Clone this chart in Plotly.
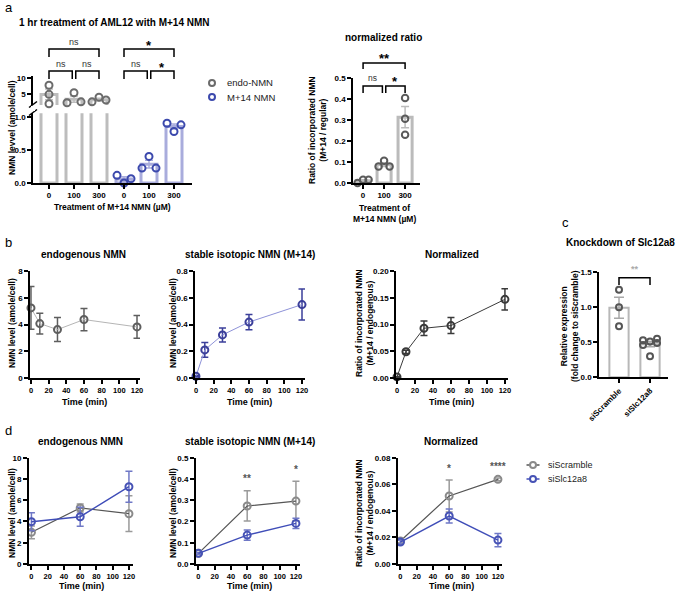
import numpy as np
import plotly.graph_objects as go

# ---------------- data ----------------
dose_labels = ['0', '100', '300']
a_endo = [[7.8, 4.9, 1.9], [2.2, 5.4, 2.5], [2.5, 4.0, 3.1]]
a_m14 = [[0.117, 0.0, 0.066], [0.227, 0.404, 0.227], [0.909, 0.783, 0.885]]
a_ratio = [[0.0, 0.016, 0.016], [0.079, 0.106, 0.079], [0.405, 0.306, 0.23]]
a_series = ['endo-NMN', 'M+14 NMN']
a_sig_left = [(0, 1, 'ns', 1), (1, 2, 'ns', 1), (0, 2, 'ns', 2),
              (3, 4, 'ns', 1), (4, 5, '*', 1), (3, 5, '*', 2)]
a_sig_right = [(0, 1, 'ns', 1), (1, 2, '*', 1), (0, 2, '**', 2)]

b_time = [0, 10, 30, 60, 120]
b_endo_mean = [5.24, 4.07, 3.62, 4.37, 3.82]
b_endo_sem = [1.6, 0.78, 0.9, 0.83, 0.85]
b_m14_mean = [0.013, 0.21, 0.322, 0.418, 0.549]
b_m14_sem = [0.005, 0.055, 0.052, 0.057, 0.116]
b_norm_mean = [0.002, 0.049, 0.093, 0.098, 0.147]
b_norm_sem = [0.001, 0.003, 0.0135, 0.015, 0.02]

c_groups = ['siScramble', 'siSlc12a8']
c_scramble = [1.25, 1.0, 0.73]
c_kd = [0.53, 0.51, 0.55, 0.46, 0.49, 0.30]

d_time = [0, 60, 120]
d_series = ['siScramble', 'siSlc12a8']
d_endo_scr = [2.98, 5.27, 4.73]
d_endo_scr_sem = [0.6, 0.37, 1.68]
d_endo_kd = [3.98, 4.45, 7.27]
d_endo_kd_sem = [0.85, 0.9, 1.45]
d_m14_scr = [0.05, 0.273, 0.296]
d_m14_scr_sem = [0.004, 0.071, 0.093]
d_m14_kd = [0.05, 0.136, 0.191]
d_m14_kd_sem = [0.004, 0.024, 0.024]
d_norm_scr = [0.0173, 0.0512, 0.0637]
d_norm_scr_sem = [0.0015, 0.012, 0.001]
d_norm_kd = [0.0165, 0.0361, 0.018]
d_norm_kd_sem = [0.0015, 0.0052, 0.005]
d_m14_stars = {60: '**', 120: '*'}
d_norm_stars = {60: '*', 120: '****'}

# ---------------- helpers ----------------
W, H = 691, 593
FONT = 'Liberation Sans, Arial, Helvetica, sans-serif'


def PX(x):
    return x / W


def PY(y):
    return 1 - y / H


def mean_sem(v):
    v = np.asarray(v, float)
    return float(v.mean()), float(v.std(ddof=1) / np.sqrt(len(v)))


def swarm(vals, ppu, ppc, d):
    vals = list(vals)
    order = sorted(range(len(vals)), key=lambda i: vals[i])
    clusters, cur = [], [order[0]]
    for a, b in zip(order, order[1:]):
        if (vals[b] - vals[a]) * ppu < d:
            cur.append(b)
        else:
            clusters.append(cur)
            cur = [b]
    clusters.append(cur)
    offs = [0.0] * len(vals)
    for cl in clusters:
        cl = sorted(cl)
        for r in range(0, len(cl), 3):
            row = cl[r:r + 3]
            slots = [0] if len(row) == 1 else ([-1, 1] if len(row) == 2 else [-1, 0, 1])
            for i, s in zip(row, slots):
                offs[i] = s * d / ppc
    return offs


def axis(**kw):
    base = dict(showline=True, linecolor='black', linewidth=1.5, ticks='outside',
                ticklen=4, tickwidth=1.5, tickcolor='black', showgrid=False,
                zeroline=False, fixedrange=True, automargin=False, tickangle=0,
                tickfont=dict(family=FONT, size=8, color='black', weight='bold'))
    base.update(kw)
    return base


fig = go.Figure()
annotations = []
shapes = []


def ann(text, x, y, size=8.5, bold=True, angle=0, color='black', xanchor='center',
        yanchor='middle', xref='paper', yref='paper', yshift=0):
    annotations.append(dict(text=text, x=x, y=y, xref=xref, yref=yref, showarrow=False,
                            textangle=angle, xanchor=xanchor, yanchor=yanchor, yshift=yshift,
                            font=dict(family=FONT, size=size, color=color,
                                      weight='bold' if bold else 'normal')))


def legend_item(cx, cy, label, color, line_color=None, size=9.5):
    if line_color:
        shapes.append(dict(type='line', xref='paper', yref='paper', x0=PX(cx - 6.5), x1=PX(cx + 6.5),
                           y0=PY(cy), y1=PY(cy), line=dict(color=line_color, width=1.5)))
    shapes.append(dict(type='circle', xref='paper', yref='paper', xsizemode='pixel', ysizemode='pixel',
                       xanchor=PX(cx), yanchor=PY(cy), x0=-3, x1=3, y0=-3, y1=3,
                       line=dict(color=color, width=2), fillcolor='white'))
    ann(label, PX(cx + 13), PY(cy), size=size, bold=False, color='#222222', xanchor='left')


GREY_BAR = '#bdbdbd'
GREY_PT = '#6b6b6b'
BLUE_BAR = '#a9acdc'
BLUE_PT = '#3c49ad'

# ---------------- panel a (left, broken axis) ----------------
endo_ms = [mean_sem(v) for v in a_endo]
m14_ms = [mean_sem(v) for v in a_m14]
endo_x = [0, 1, 2]
m14_x = [3, 4, 5]
for yax in ['y', 'y2']:
    fig.add_trace(go.Bar(x=endo_x, y=[m for m, s in endo_ms], width=0.64, xaxis='x', yaxis=yax,
                         marker=dict(color='white', line=dict(color=GREY_BAR, width=3)),
                         error_y=dict(type='data', array=[s for m, s in endo_ms], color=GREY_BAR,
                                      thickness=1.5, width=4), showlegend=False, hoverinfo='skip'))
    fig.add_trace(go.Bar(x=m14_x, y=[m for m, s in m14_ms], width=0.64, xaxis='x', yaxis=yax,
                         marker=dict(color='white', line=dict(color=BLUE_BAR, width=3)),
                         error_y=dict(type='data', array=[s for m, s in m14_ms], color=BLUE_BAR,
                                      thickness=1.5, width=4), showlegend=False, hoverinfo='skip'))

px_ex, px_ey = [], []
for gx, vals in zip(endo_x, a_endo):
    offs = swarm(vals, 3.13, 25, 7)
    px_ex += [gx + o for o in offs]
    px_ey += vals
fig.add_trace(go.Scatter(x=px_ex, y=px_ey, xaxis='x', yaxis='y2', mode='markers', name=a_series[0],
                         marker=dict(symbol='circle-open', size=7, color=GREY_PT, line=dict(width=2)),
                         cliponaxis=False, showlegend=False))
px_mx, px_my = [], []
for gx, vals in zip(m14_x, a_m14):
    offs = swarm(vals, 66, 25, 7)
    px_mx += [gx + o for o in offs]
    px_my += vals
fig.add_trace(go.Scatter(x=px_mx, y=px_my, xaxis='x', yaxis='y', mode='markers', name=a_series[1],
                         marker=dict(symbol='circle-open', size=7, color=BLUE_PT, line=dict(width=2)),
                         cliponaxis=False, showlegend=False))
legend_item(212, 83, a_series[0], GREY_PT)
legend_item(212, 97, a_series[1], BLUE_PT)

# ---------------- panel a (right, ratio) ----------------
ratio_ms = [mean_sem(v) for v in a_ratio]
fig.add_trace(go.Bar(x=[0, 1, 2], y=[m for m, s in ratio_ms], width=0.67, xaxis='x2', yaxis='y3',
                     marker=dict(color='white', line=dict(color='#bbbbbb', width=3)),
                     error_y=dict(type='data', array=[s for m, s in ratio_ms], color='#bbbbbb',
                                  thickness=1.5, width=4), showlegend=False, hoverinfo='skip'))
rx, ry = [], []
for gx, vals in enumerate(a_ratio):
    offs = swarm(vals, 210, 21, 5.5)
    rx += [gx + o for o in offs]
    ry += vals
fig.add_trace(go.Scatter(x=rx, y=ry, xaxis='x2', yaxis='y3', mode='markers', showlegend=False,
                         marker=dict(symbol='circle-open', size=6.5, color='#5a5a5a', line=dict(width=2)),
                         cliponaxis=False))


# ---------------- panel b ----------------
def line_trace(x, y, e, xa, ya, lc, mc, ec, lw=1, name=None, msize=7):
    return go.Scatter(x=x, y=y, xaxis=xa, yaxis=ya, mode='lines+markers', name=name,
                      line=dict(color=lc, width=lw),
                      marker=dict(symbol='circle-open', size=msize, color=mc, line=dict(width=2)),
                      error_y=dict(type='data', array=e, color=ec, thickness=1.5, width=3.5),
                      cliponaxis=False, showlegend=False)


fig.add_trace(line_trace(b_time, b_endo_mean, b_endo_sem, 'x3', 'y4', '#b5b5b5', '#5e5e5e', '#5e5e5e'))
fig.add_trace(line_trace(b_time, b_m14_mean, b_m14_sem, 'x4', 'y5', '#8e92d8', '#3b3f9a', '#3b3f9a'))
fig.add_trace(line_trace(b_time, b_norm_mean, b_norm_sem, 'x5', 'y6', '#3a3a3a', '#3a3a3a', '#3a3a3a'))

# ---------------- panel c ----------------
c_vals = [c_scramble, c_kd]
c_ms = [mean_sem(v) for v in c_vals]
fig.add_trace(go.Bar(x=[0, 1], y=[m for m, s in c_ms], width=0.62, xaxis='x6', yaxis='y7',
                     marker=dict(color='white', line=dict(color='#b8b8b8', width=2)),
                     error_y=dict(type='data', array=[s for m, s in c_ms], color='#a8a8a8',
                                  thickness=1.5, width=5), showlegend=False, hoverinfo='skip'))
cx, cy = [], []
for gx, vals in enumerate(c_vals):
    offs = swarm(vals, 70, 31, 7)
    cx += [gx + o for o in offs]
    cy += vals
fig.add_trace(go.Scatter(x=cx, y=cy, xaxis='x6', yaxis='y7', mode='markers', showlegend=False,
                         marker=dict(symbol='circle-open', size=6, color='#555555', line=dict(width=2)),
                         cliponaxis=False))

# ---------------- panel d ----------------
SCR_L, SCR_M, SCR_E = '#555555', '#8a8a8a', '#9a9a9a'
KD_L, KD_M, KD_E = '#3f4db8', '#4652b5', '#6f78c6'
fig.add_trace(line_trace(d_time, d_endo_scr, d_endo_scr_sem, 'x7', 'y8', SCR_L, SCR_M, SCR_E, lw=1.2,
                         name=d_series[0]))
fig.add_trace(line_trace(d_time, d_endo_kd, d_endo_kd_sem, 'x7', 'y8', KD_L, KD_M, KD_E, lw=1.4,
                         name=d_series[1]))
fig.add_trace(line_trace(d_time, d_m14_scr, d_m14_scr_sem, 'x8', 'y9', SCR_L, SCR_M, SCR_E, lw=1.2))
fig.add_trace(line_trace(d_time, d_m14_kd, d_m14_kd_sem, 'x8', 'y9', KD_L, KD_M, KD_E, lw=1.4))
fig.add_trace(line_trace(d_time, d_norm_scr, d_norm_scr_sem, 'x9', 'y10', SCR_L, SCR_M, SCR_E, lw=1.2))
fig.add_trace(line_trace(d_time, d_norm_kd, d_norm_kd_sem, 'x9', 'y10', KD_L, KD_M, KD_E, lw=1.4))
legend_item(533, 465, d_series[0], SCR_M, SCR_L, size=9)
legend_item(533, 479, d_series[1], KD_M, KD_L, size=9)

for stars, scr, scr_e, kd, kd_e, xa, ya in [
        (d_m14_stars, d_m14_scr, d_m14_scr_sem, d_m14_kd, d_m14_kd_sem, 'x8', 'y9'),
        (d_norm_stars, d_norm_scr, d_norm_scr_sem, d_norm_kd, d_norm_kd_sem, 'x9', 'y10')]:
    for t, s in stars.items():
        i = d_time.index(t)
        top = max(scr[i] + scr_e[i], kd[i] + kd_e[i])
        ann(s, t, top, size=10, bold=True, color='#555555', xref=xa, yref=ya, yshift=12)


# ---------------- significance brackets ----------------
def bracket(xref, x0, x1, top_px, leg_px, text, text_px, lw=1.5, color='black', tsize=None, tcolor=None):
    shapes.append(dict(type='path', xref=xref, yref='paper', line=dict(color=color, width=lw),
                       path=f'M {x0},{PY(leg_px)} L {x0},{PY(top_px)} L {x1},{PY(top_px)} L {x1},{PY(leg_px)}'))
    if text == 'ns':
        ann(text, (x0 + x1) / 2, PY(text_px), size=tsize or 9, bold=False, color=tcolor or '#333333',
            xref=xref)
    else:
        ann(text, (x0 + x1) / 2, PY(text_px + 3), size=tsize or 13, bold=True, color=tcolor or 'black',
            xref=xref)


for i, j, txt, lvl in a_sig_left:
    x0 = i + (0.07 if (lvl == 1 and i % 3 == 1) else 0)
    x1 = j - (0.07 if (lvl == 1 and j % 3 == 1) else 0)
    if lvl == 1:
        bracket('x', x0, x1, 71, 79, txt, 64)
    else:
        bracket('x', x0, x1, 49, 57, txt, 42)
for i, j, txt, lvl in a_sig_right:
    x0 = i + (0.08 if (lvl == 1 and i == 1) else 0)
    x1 = j - (0.08 if (lvl == 1 and j == 1) else 0)
    if lvl == 1:
        bracket('x2', x0, x1, 86, 93, txt, 78, tsize=8.5 if txt == 'ns' else None)
    else:
        bracket('x2', x0, x1, 63, 69, txt, 55)
bracket('x6', 0, 1, 277.7, 285, '**', 266, tsize=9, tcolor='#aaaaaa')

# axis break marks for panel a
for yb in [104.5, 112.5]:
    shapes.append(dict(type='line', xref='paper', yref='paper', x0=PX(29), x1=PX(37),
                       y0=PY(yb + 3), y1=PY(yb - 3), line=dict(color='black', width=1.5)))
shapes.append(dict(type='rect', xref='paper', yref='paper', x0=PX(31), x1=PX(35),
                   y0=PY(111), y1=PY(106), line=dict(width=0), fillcolor='white'))

# ---------------- text ----------------
ann('a', PX(3), PY(8), size=13, bold=False, xanchor='left')
ann('b', PX(3), PY(243), size=13, bold=False, xanchor='left')
ann('c', PX(560), PY(222), size=13, bold=False, xanchor='left')
ann('d', PX(3), PY(430), size=13, bold=False, xanchor='left')

ann('1 hr treatment of AML12 with M+14 NMN', PX(17), PY(23), size=10, xanchor='left')
ann('normalized ratio', PX(383), PY(38), size=10)
ann('NMN levvel (amole/cell)', PX(12), PY(128), size=8.5, angle=-90)
ann('Treatment of M+14 NMN (µM)', PX(112), PY(207), size=8.5)
ann('Ratio of incorporated NMN<br>(M+14 / regular)', PX(317), PY(130), size=8.5, angle=-90)
ann('Treatment of<br>M+14 NMN (µM)', PX(384), PY(213), size=8.5)

for cx_, title in [(83, 'endogenous NMN'), (250, 'stable isotopic NMN (M+14)'), (452, 'Normalized')]:
    ann(title, PX(cx_), PY(254), size=10)
for cx_, title in [(80, 'endogenous NMN'), (250, 'stable isotopic NMN (M+14)'), (451, 'Normalized')]:
    ann(title, PX(cx_), PY(441.5), size=10)
for cx_ in [84, 249, 452]:
    ann('Time (min)', PX(cx_), PY(402), size=9)
for cx_ in [81, 249, 451]:
    ann('Time (min)', PX(cx_), PY(585.5), size=9)
for py_ in [323, 513]:
    ann('NMN level (amole/cell)', PX(12), PY(py_), size=8.5, angle=-90)
    ann('NMN level (amole/cell)', PX(173), PY(py_), size=8.5, angle=-90)
    ann('Ratio of incorporated NMN<br>(M+14 / endogenous)', PX(364), PY(py_), size=8.5, angle=-90)

ann('Knockdown of Slc12a8', PX(620), PY(243), size=10)
ann('Relative expression<br>(fold change to siScramble)', PX(569), PY(326), size=8.5, angle=-90)

TICK_D = dict(family=FONT, size=7.5, color='black', weight='bold')

# ---------------- layout ----------------
layout = dict(
    width=W, height=H, margin=dict(l=0, r=0, t=0, b=0, autoexpand=False),
    paper_bgcolor='white', plot_bgcolor='white', barmode='overlay',
    font=dict(family=FONT, color='black'),
    annotations=annotations, shapes=shapes, showlegend=False,
    xaxis=axis(domain=[PX(33), PX(192)], range=[-0.64, 5.72], anchor='y',
               tickvals=list(range(6)), ticktext=dose_labels * 2),
    yaxis=axis(domain=[PY(183), PY(113.3)], range=[0, 1.06], anchor='x',
               tickvals=[0, 0.5, 1.0], tickformat='.1f'),
    yaxis2=axis(domain=[PY(105), PY(76.4)], range=[1.5, 10.6], anchor='x', tickvals=[5, 10]),
    xaxis2=axis(domain=[PX(353), PX(420)], range=[-0.48, 2.71], anchor='y3',
                tickvals=[0, 1, 2], ticktext=dose_labels),
    yaxis3=axis(domain=[PY(183), PY(78)], range=[0, 0.5], anchor='x2',
                tickvals=[0, 0.1, 0.2, 0.3, 0.4, 0.5], tickformat='.1f'),
    xaxis3=axis(domain=[PX(30), PX(140)], range=[-1.1, 123.4], anchor='y4', tickvals=list(range(0, 121, 20)),
                tickfont=TICK_D),
    yaxis4=axis(domain=[PY(378), PY(271)], range=[0, 8], anchor='x3', tickvals=[0, 2, 4, 6, 8]),
    xaxis4=axis(domain=[PX(195), PX(305)], range=[-1.1, 123.4], anchor='y5', tickvals=list(range(0, 121, 20)),
                tickfont=TICK_D),
    yaxis5=axis(domain=[PY(378), PY(271)], range=[0, 0.8], anchor='x4',
                tickvals=[0, 0.2, 0.4, 0.6, 0.8], tickformat='.1f'),
    xaxis5=axis(domain=[PX(396), PX(508)], range=[-1.1, 123.4], anchor='y6', tickvals=list(range(0, 121, 20)),
                tickfont=TICK_D),
    yaxis6=axis(domain=[PY(378), PY(271)], range=[0, 0.2], anchor='x5',
                tickvals=[0, 0.05, 0.1, 0.15, 0.2], tickformat='.2f'),
    xaxis6=axis(domain=[PX(599), PX(668)], range=[-0.645, 1.58], anchor='y7',
                tickvals=[0, 1], ticktext=c_groups, tickangle=-45),
    yaxis7=axis(domain=[PY(377.3), PY(272.3)], range=[0, 1.5], anchor='x6',
                tickvals=[0, 0.5, 1.0, 1.5], tickformat='.1f'),
    xaxis7=axis(domain=[PX(29), PX(133)], range=[-3, 125], anchor='y8', linewidth=2,
                tickvals=list(range(0, 121, 20)), tickfont=TICK_D),
    yaxis8=axis(domain=[PY(564), PY(457.7)], range=[0, 10], anchor='x7', linewidth=2,
                tickvals=[0, 2, 4, 6, 8, 10]),
    xaxis8=axis(domain=[PX(196), PX(300)], range=[-3, 125], anchor='y9', linewidth=2,
                tickvals=list(range(0, 121, 20)), tickfont=TICK_D),
    yaxis9=axis(domain=[PY(564), PY(457.7)], range=[0, 0.5], anchor='x8', linewidth=2,
                tickvals=[0, 0.1, 0.2, 0.3, 0.4, 0.5], tickformat='.1f'),
    xaxis9=axis(domain=[PX(398), PX(502)], range=[-3, 125], anchor='y10', linewidth=2,
                tickvals=list(range(0, 121, 20)), tickfont=TICK_D),
    yaxis10=axis(domain=[PY(564), PY(457.7)], range=[0, 0.08], anchor='x9', linewidth=2,
                 tickvals=[0, 0.02, 0.04, 0.06, 0.08], tickformat='.2f'),
)
fig.update_layout(**layout)
fig.write_html('out.html', config={'displayModeBar': False},
               post_script="document.body.style.margin='0';document.body.style.overflow='hidden';")
